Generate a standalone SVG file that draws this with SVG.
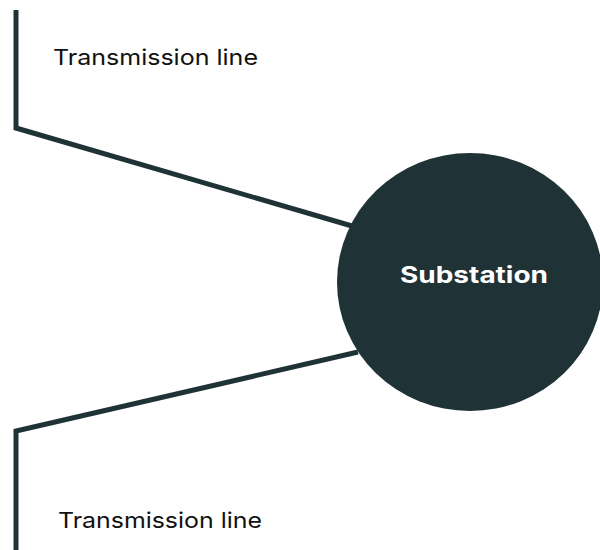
<svg xmlns="http://www.w3.org/2000/svg" width="600" height="550" viewBox="0 0 600 550">
<style>
.wire{fill:none;stroke:#1f3337;stroke-width:5;stroke-linejoin:miter}
.lbl{font-family:Inter,"Liberation Sans",sans-serif;font-size:22px;fill:#111}
.hub{fill:#1f3337}
.hubt{font-family:Inter,"Liberation Sans",sans-serif;font-size:23px;font-weight:700;fill:#fff}
</style>
<rect width="600" height="550" fill="#fff"/>
<g id="connectors">
<polyline class="wire" points="16,10 16,128 352,226"/>
<polyline class="wire" points="16,550 16,431 358,352"/>
</g>
<g id="substation">
<ellipse class="hub" cx="470" cy="282" rx="133" ry="129"/>
<text class="hubt" x="474" y="283" text-anchor="middle" textLength="148" lengthAdjust="spacingAndGlyphs">Substation</text>
</g>
<g id="label-top">
<text class="lbl" x="53" y="65" textLength="205" lengthAdjust="spacingAndGlyphs">Transmission line</text>
</g>
<g id="label-bottom">
<text class="lbl" x="58" y="528" textLength="204" lengthAdjust="spacingAndGlyphs">Transmission line</text>
</g>
</svg>
